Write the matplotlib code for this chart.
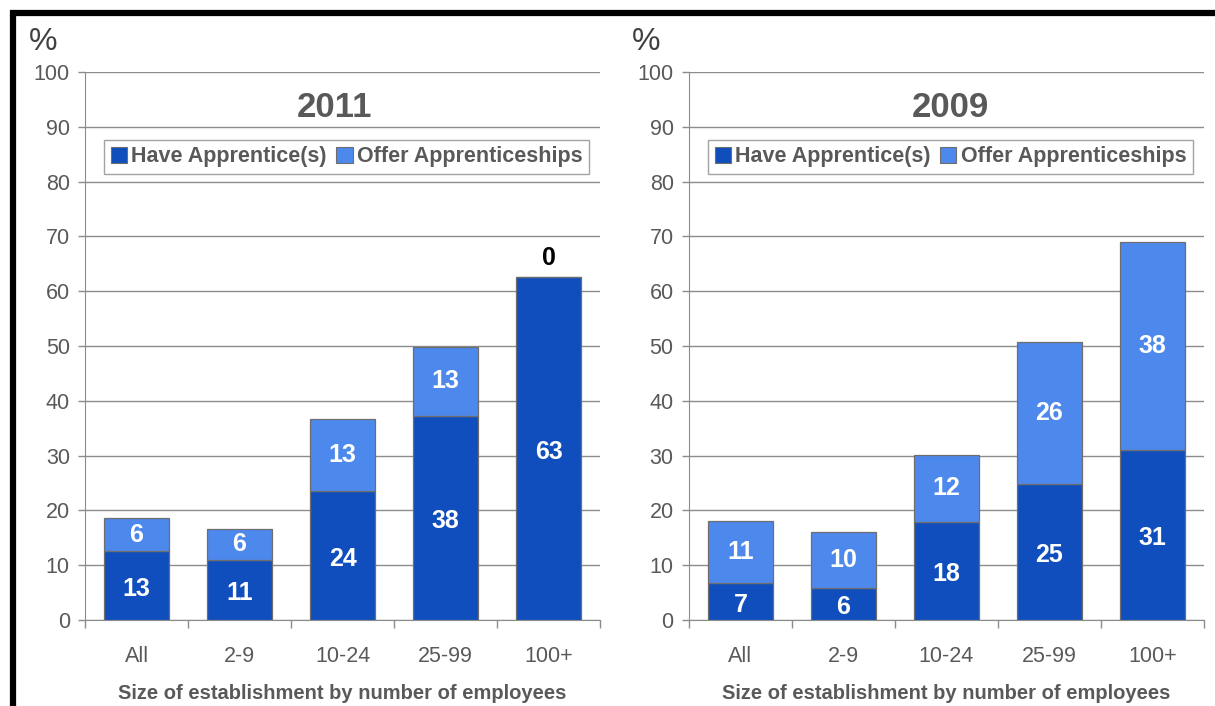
import matplotlib.pyplot as plt
from matplotlib.lines import Line2D
from matplotlib.patches import Patch
import numpy as np

plt.rcParams["font.family"] = ["Liberation Sans", "DejaVu Sans"]

categories = ["All", "2-9", "10-24", "25-99", "100+"]
series_names = ["Have Apprentice(s)", "Offer Apprenticeships"]

# heights, labels as printed on the bars
have_2011 = [12.6, 11.0, 23.5, 37.3, 62.6]
offer_2011 = [6.0, 5.6, 13.2, 12.5, 0.0]
have_2011_lbl = ["13", "11", "24", "38", "63"]
offer_2011_lbl = ["6", "6", "13", "13", "0"]

have_2009 = [6.8, 5.8, 17.9, 24.8, 31.1]
offer_2009 = [11.3, 10.3, 12.2, 25.9, 37.8]
have_2009_lbl = ["7", "6", "18", "25", "31"]
offer_2009_lbl = ["11", "10", "12", "26", "38"]

DARK = "#104EBD"
LIGHT = "#4D88EC"
GREY = "#595959"
GRID = "#8C8C8C"


def draw_panel(ax, title, have, offer, have_lbl, offer_lbl, title_x):
    x = np.arange(len(categories))
    ax.bar(x, have, width=0.63, color=DARK, edgecolor="#6E6E6E", linewidth=0.9, zorder=3)
    ax.bar(x, offer, bottom=have, width=0.63, color=LIGHT, edgecolor="#6E6E6E",
           linewidth=0.9, zorder=3)

    for i in range(len(categories)):
        ax.text(x[i], have[i] / 2 - 0.6, have_lbl[i], ha="center", va="center",
                color="white", fontsize=18, fontweight="bold", zorder=4)
        if offer[i] > 0:
            ax.text(x[i], have[i] + offer[i] / 2, offer_lbl[i], ha="center", va="center",
                    color="white", fontsize=18, fontweight="bold", zorder=4)
        else:
            ax.text(x[i], have[i] + 3.4, offer_lbl[i], ha="center", va="center",
                    color="black", fontsize=18, fontweight="bold", zorder=4)

    ax.set_xlim(-0.5, len(categories) - 0.5)
    ax.set_ylim(0, 100)
    ax.set_yticks(range(0, 101, 10))
    ax.grid(axis="y", color=GRID, linewidth=1.0, zorder=0)
    ax.set_axisbelow(True)

    for side in ("top", "right"):
        ax.spines[side].set_visible(False)
    ax.spines["left"].set_color(GRID)
    ax.spines["bottom"].set_color(GRID)

    ax.tick_params(axis="y", length=5, width=1, color=GRID, labelsize=15.5,
                   labelcolor=GREY, pad=6)

    # boundary ticks on the x axis, labels at the bar centres
    ax.set_xticks(np.arange(-0.5, len(categories), 1.0))
    ax.set_xticklabels([])
    ax.tick_params(axis="x", which="major", length=6, width=1, color=GRID)
    ax.set_xticks(x, minor=True)
    ax.set_xticklabels(categories, minor=True)
    ax.tick_params(axis="x", which="minor", length=0, labelsize=15.5,
                   labelcolor=GREY, pad=19)

    ax.set_xlabel("Size of establishment by number of employees", fontsize=14.5,
                  fontweight="bold", color=GREY, labelpad=12)

    ax.text(title_x, 0.936, title, transform=ax.transAxes, ha="center", va="center",
            fontsize=25, fontweight="bold", color=GREY)
    ax.text(-0.11, 1.055, "%", transform=ax.transAxes, ha="left", va="center",
            fontsize=23, color="#404040")

    handles = [Patch(facecolor=DARK, edgecolor="#6E6E6E", linewidth=0.8),
               Patch(facecolor=LIGHT, edgecolor="#6E6E6E", linewidth=0.8)]
    leg = ax.legend(handles, series_names, loc="center", bbox_to_anchor=(0.508, 0.845),
                    ncol=2, fontsize=15.5, handlelength=0.75, handleheight=0.75,
                    handletextpad=0.2, columnspacing=0.45, borderpad=0.3,
                    frameon=True, fancybox=False, edgecolor="#8C8C8C")
    leg.get_frame().set_linewidth(1.0)
    for t in leg.get_texts():
        t.set_color(GREY)
        t.set_fontweight("bold")


fig = plt.figure(figsize=(12.15, 7.06), dpi=100)
ax1 = fig.add_axes([0.070, 0.1218, 0.4239, 0.7762])
ax2 = fig.add_axes([0.567, 0.1218, 0.4239, 0.7762])

draw_panel(ax1, "2011", have_2011, offer_2011, have_2011_lbl, offer_2011_lbl, 0.485)
draw_panel(ax2, "2009", have_2009, offer_2009, have_2009_lbl, offer_2009_lbl, 0.507)

# black frame at the top and on the left
fig.add_artist(Line2D([10 / 1215, 1.0], [1 - 12.5 / 706, 1 - 12.5 / 706],
                      transform=fig.transFigure, color="black", linewidth=4.5,
                      solid_capstyle="butt"))
fig.add_artist(Line2D([12.5 / 1215, 12.5 / 1215], [0.0, 1 - 10 / 706],
                      transform=fig.transFigure, color="black", linewidth=4.5,
                      solid_capstyle="butt"))

fig.savefig("out.png", dpi=100)
